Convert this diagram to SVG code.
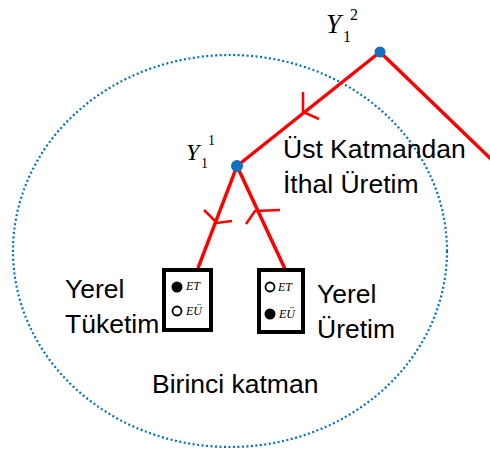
<svg xmlns="http://www.w3.org/2000/svg" width="490" height="450" viewBox="0 0 490 450">
<style>
.edge{stroke:#FF0000;stroke-width:3.5;fill:none;stroke-linecap:butt}
.arr{stroke:#FF0000;stroke-width:2.5;fill:none}
.node{fill:#1570C0}
.lbl{font-family:"Liberation Sans",Arial,sans-serif;font-size:26.5px;fill:#000}
.math{font-family:"Liberation Serif","Times New Roman",serif;font-style:italic;fill:#000}
.num{font-family:"Liberation Serif","Times New Roman",serif;fill:#000}
.box{fill:#fff;stroke:#000;stroke-width:4}
.small{font-family:"Liberation Serif","Times New Roman",serif;font-style:italic;font-size:12px;fill:#000}
</style>
<rect width="490" height="450" fill="#fff"/>
<ellipse id="layer" cx="230" cy="251" rx="217" ry="196" fill="none" stroke="#0070C0" stroke-width="2.2" stroke-dasharray="2 2.5"/>
<g id="connectors">
<line class="edge" x1="380" y1="52" x2="237" y2="166"/>
<line class="edge" x1="380" y1="52" x2="492" y2="160"/>
<line class="edge" x1="237" y1="166" x2="198" y2="268"/>
<line class="edge" x1="237" y1="166" x2="285" y2="269"/>
<polyline class="arr" points="303,92 303,112 319,119"/>
<polyline class="arr" points="204,210 217,223 232,221"/>
<polyline class="arr" points="280,210 255,211 246,224"/>
</g>
<g id="Y12">
<circle class="node" cx="380" cy="52" r="5.5"/>
<text class="math" x="326" y="33" font-size="27">Y</text>
<text class="num" x="343" y="42" font-size="16">1</text>
<text class="num" x="350" y="20" font-size="16">2</text>
</g>
<g id="Y11">
<circle class="node" cx="237" cy="166" r="6"/>
<text class="math" x="186" y="160" font-size="24">Y</text>
<text class="num" x="201" y="168" font-size="14">1</text>
<text class="num" x="208" y="145" font-size="14">1</text>
</g>
<g id="import-label">
<text class="lbl" x="283" y="158">Üst Katmandan</text>
<text class="lbl" x="283" y="193">İthal Üretim</text>
</g>
<g id="local-consumption">
<rect class="box" x="164" y="270" width="47" height="60"/>
<circle cx="177" cy="287" r="5.5" fill="#000"/>
<text class="small" x="186" y="290">ET</text>
<circle cx="177" cy="311" r="4.5" fill="#fff" stroke="#000" stroke-width="1.8"/>
<text class="small" x="186" y="315">EÜ</text>
<text class="lbl" x="65" y="298">Yerel</text>
<text class="lbl" x="65" y="333">Tüketim</text>
</g>
<g id="local-production">
<rect class="box" x="259" y="270" width="44" height="62"/>
<circle cx="270" cy="287" r="4.5" fill="#fff" stroke="#000" stroke-width="1.8"/>
<text class="small" x="278" y="291">ET</text>
<circle cx="270" cy="314" r="5.5" fill="#000"/>
<text class="small" x="279" y="318">EÜ</text>
<text class="lbl" x="317" y="303">Yerel</text>
<text class="lbl" x="317" y="338">Üretim</text>
</g>
<g id="layer-label">
<text class="lbl" x="152" y="393">Birinci katman</text>
</g>
</svg>
